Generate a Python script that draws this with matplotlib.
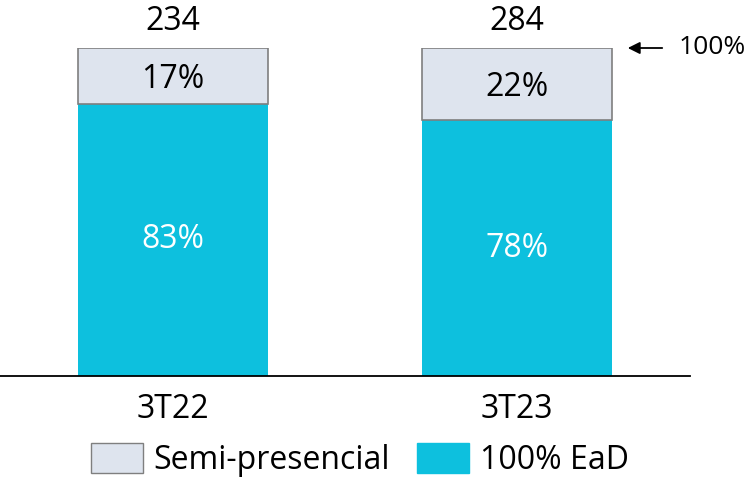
import matplotlib
matplotlib.use("Agg")
import matplotlib.pyplot as plt
from matplotlib.patches import Patch

categories = ["3T22", "3T23"]
totals = [234, 284]
ead = [83, 78]
semi = [17, 22]

c_ead = "#0DC0DE"
c_semi = "#DEE4EE"
edge = "#7F7F7F"

plt.rcParams['font.family'] = ['Open Sans', 'DejaVu Sans']
FS = 23

fig = plt.figure(figsize=(7.48, 4.84), dpi=100)
W, H = 748, 484
ax = fig.add_axes([0, (H - 376) / H, 690 / W, 328 / H])
x = list(range(len(categories)))
w = 190 / 344
ax.bar(x, ead, width=w, color=c_ead, edgecolor="none")
ax.bar(x, semi, width=w, bottom=ead, color=c_semi, edgecolor=edge, linewidth=1.2)
ax.set_xlim(-173 / 344, (690 - 173) / 344)
ax.set_ylim(0, 100)
for s in ["top", "right", "left"]:
    ax.spines[s].set_visible(False)
ax.spines["bottom"].set_linewidth(1.3)
ax.set_yticks([])
ax.set_xticks(x)
ax.set_xticklabels(categories, fontsize=FS)
ax.tick_params(axis="x", length=0, pad=12)

for i in x:
    ax.text(i, ead[i] / 2, f"{ead[i]}%", ha="center", va="center", fontsize=FS, color="white")
    ax.text(i, ead[i] + semi[i] / 2 - 1.0, f"{semi[i]}%", ha="center", va="center", fontsize=FS, color="black")
    ax.text(i, 108, f"{totals[i]}", ha="center", va="center", fontsize=FS, color="black", clip_on=False)

ax.annotate("", xy=(625 / W, (H - 48) / H), xytext=(665 / W, (H - 48) / H),
            xycoords="figure fraction", textcoords="figure fraction",
            arrowprops=dict(arrowstyle="-|>", color="black", lw=1.3, mutation_scale=18))
fig.text(679 / W, (H - 48) / H, "100%", ha="left", va="center", fontsize=19)

handles = [Patch(facecolor=c_semi, edgecolor=edge, label="Semi-presencial"),
           Patch(facecolor=c_ead, edgecolor=c_ead, label="100% EaD")]
fig.legend(handles=handles, loc="center", bbox_to_anchor=(360 / W, (H - 460) / H),
           ncol=2, frameon=False, fontsize=FS, handlelength=1.63, handleheight=1.07,
           handletextpad=0.34, columnspacing=0.85, borderpad=0)

fig.savefig("out.png", dpi=100)
